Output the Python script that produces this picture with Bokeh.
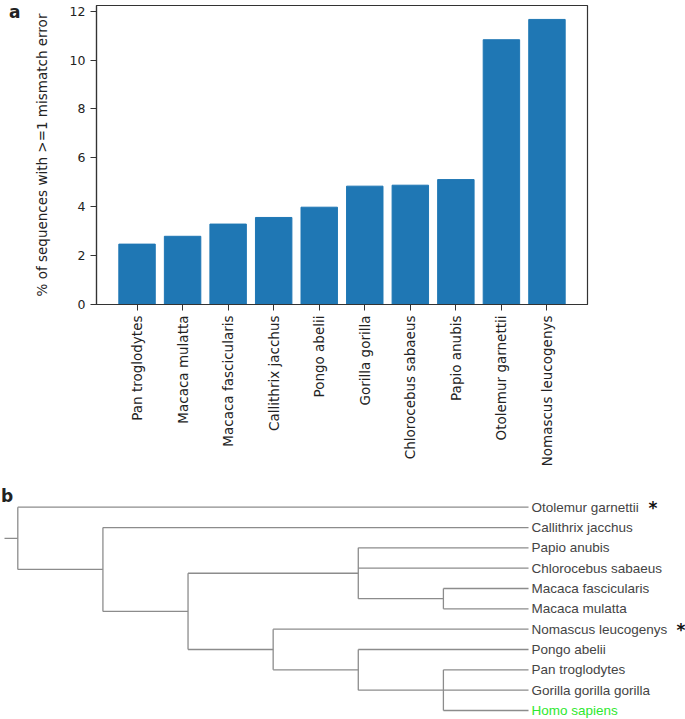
import numpy as np
from bokeh.plotting import figure
from bokeh.models import Range1d, FixedTicker, Label, LinearAxis
from bokeh.core.properties import value
from bokeh.embed import file_html
from bokeh.resources import INLINE

# ---------------- data: panel a ----------------
species = ["Pan troglodytes", "Macaca mulatta", "Macaca fascicularis",
           "Callithrix jacchus", "Pongo abelii", "Gorilla gorilla",
           "Chlorocebus sabaeus", "Papio anubis", "Otolemur garnettii",
           "Nomascus leucogenys"]
pct_mismatch = [2.47, 2.79, 3.29, 3.56, 3.98, 4.84, 4.88, 5.11, 10.83, 11.66]
y_ticks = [0, 2, 4, 6, 8, 10, 12]
y_label = "% of sequences with >=1 mismatch error"

# ---------------- data: panel b (cladogram) ----------------
tree = ["Otolemur garnettii",
        ["Callithrix jacchus",
         [["Papio anubis", "Chlorocebus sabaeus",
           ["Macaca fascicularis", "Macaca mulatta"]],
          ["Nomascus leucogenys",
           ["Pongo abelii",
            ["Pan troglodytes", "Gorilla gorilla gorilla", "Homo sapiens"]]]]]]
starred = ["Otolemur garnettii", "Nomascus leucogenys"]
highlight = "Homo sapiens"

FONT = "DejaVu Sans"
TREE_FONT = "Liberation Sans"
BLUE = "#1f77b4"

# ================= panel a =================
n = len(species)
xs = np.arange(n)
W1, H1 = 685, 478
FH = 299
p1 = figure(output_backend="svg", toolbar_location=None,
            width=W1, height=H1,
            frame_width=491, frame_height=FH,
            x_range=Range1d(-0.89, n - 1 + 0.89), y_range=Range1d(0, 12.23),
            min_border_left=96, min_border_right=98,
            min_border_top=5, min_border_bottom=174)
p1.vbar(x=xs, top=pct_mismatch, width=0.8, color=BLUE, line_color=BLUE)
p1.grid.visible = False
p1.outline_line_color = "#333333"
p1.outline_line_width = 1.2
for ax in (p1.xaxis[0], p1.yaxis[0]):
    ax.axis_line_color = "#333333"
    ax.axis_line_width = 1.2
    ax.major_tick_line_color = "#333333"
    ax.major_tick_out = 6
    ax.major_tick_in = 0
    ax.minor_tick_line_color = None
    ax.major_label_text_font = FONT
    ax.major_label_text_color = "#222222"
    ax.major_label_standoff = 5
p1.xaxis.ticker = FixedTicker(ticks=list(xs))
p1.xaxis.major_label_overrides = {int(i): s for i, s in zip(xs, species)}
p1.xaxis.major_label_orientation = np.pi / 2
p1.xaxis.major_label_text_font_size = "13.5px"
p1.yaxis.ticker = FixedTicker(ticks=y_ticks)
p1.yaxis.major_label_text_font_size = "12.5px"
p1.yaxis.axis_label = y_label
p1.yaxis.axis_label_text_font = FONT
p1.yaxis.axis_label_text_font_size = "13.5px"
p1.yaxis.axis_label_text_font_style = "normal"
p1.yaxis.axis_label_text_color = "#222222"
p1.yaxis.axis_label_standoff = 17

# panel letter "a" as the single label of a bare outer axis (pixel range)
p1.extra_y_ranges = {"px": Range1d(0, 2 * FH)}
tag_axis = LinearAxis(y_range_name="px", ticker=FixedTicker(ticks=[2 * FH - 7]),
                      major_label_overrides={2 * FH - 7: "a"},
                      axis_line_color=None, major_tick_line_color=None,
                      minor_tick_line_color=None, major_tick_out=0,
                      major_tick_in=0, major_label_standoff=10,
                      major_label_text_font=FONT,
                      major_label_text_font_size="17px",
                      major_label_text_font_style="bold",
                      major_label_text_color="#222222")
p1.add_layout(tag_axis, "left")

# ================= panel b =================
leaves = []
def collect(node):
    if isinstance(node, str):
        leaves.append(node)
    else:
        for c in node:
            collect(c)
collect(tree)

def height(node):
    if isinstance(node, str):
        return 0
    return 1 + max(height(c) for c in node)

H = height(tree)
leaf_index = {name: i for i, name in enumerate(leaves)}
xs0, ys0, xs1, ys1 = [], [], [], []

def layout(node):
    """return (x, y) of node; record segments"""
    if isinstance(node, str):
        return H, leaf_index[node]
    x = H - height(node)
    pts = [layout(c) for c in node]
    y_first, y_last = pts[0][1], pts[-1][1]
    xs0.append(x); ys0.append(y_first); xs1.append(x); ys1.append(y_last)
    for cx, cy in pts:
        xs0.append(x); ys0.append(cy); xs1.append(cx); ys1.append(cy)
    return x, (y_first + y_last) / 2

root_x, root_y = layout(tree)
px_x = 85.12
px_y = 20.33
root_stub = 13.3 / px_x
xs0.append(root_x - root_stub); ys0.append(root_y)
xs1.append(root_x); ys1.append(root_y)

W2, H2 = 685, 241
left_px = 17.3
top_px = 28.7
p2 = figure(output_backend="svg", toolbar_location=None,
            width=W2, height=H2, min_border=0,
            x_range=Range1d(root_x - left_px / px_x,
                            root_x + (W2 - left_px) / px_x),
            y_range=Range1d((H2 - top_px) / px_y, -top_px / px_y),
            x_axis_location=None, y_axis_location=None)
p2.grid.visible = False
p2.outline_line_color = None
p2.segment(x0=xs0, y0=ys0, x1=xs1, y1=ys1, line_color="#8c8c8c",
           line_width=1.3)

tips = [H] * len(leaves)
colors = ["#2ee82e" if s == highlight else "#444444" for s in leaves]
p2.text(x=tips, y=list(range(len(leaves))), text=leaves, x_offset=3,
        text_baseline="middle", text_align="left", text_color=colors,
        text_font=value(TREE_FONT), text_font_size="13.5px")

star_offsets = {"Otolemur garnettii": 120, "Nomascus leucogenys": 148}
for s in starred:
    p2.text(x=[H], y=[leaf_index[s]], text=["*"], x_offset=star_offsets[s],
            y_offset=1, text_baseline="middle", text_align="left",
            text_color="#111111", text_font=value(FONT),
            text_font_size="17px", text_font_style="bold")

p2.add_layout(Label(x=root_x - left_px / px_x + 0.5 / px_x,
                    y=(17 - top_px) / px_y,
                    text="b", text_font=FONT, text_font_size="17px",
                    text_font_style="bold", text_color="#222222",
                    text_baseline="middle", text_align="left"))

open("out.html", "w").write(file_html([p1, p2], INLINE))
